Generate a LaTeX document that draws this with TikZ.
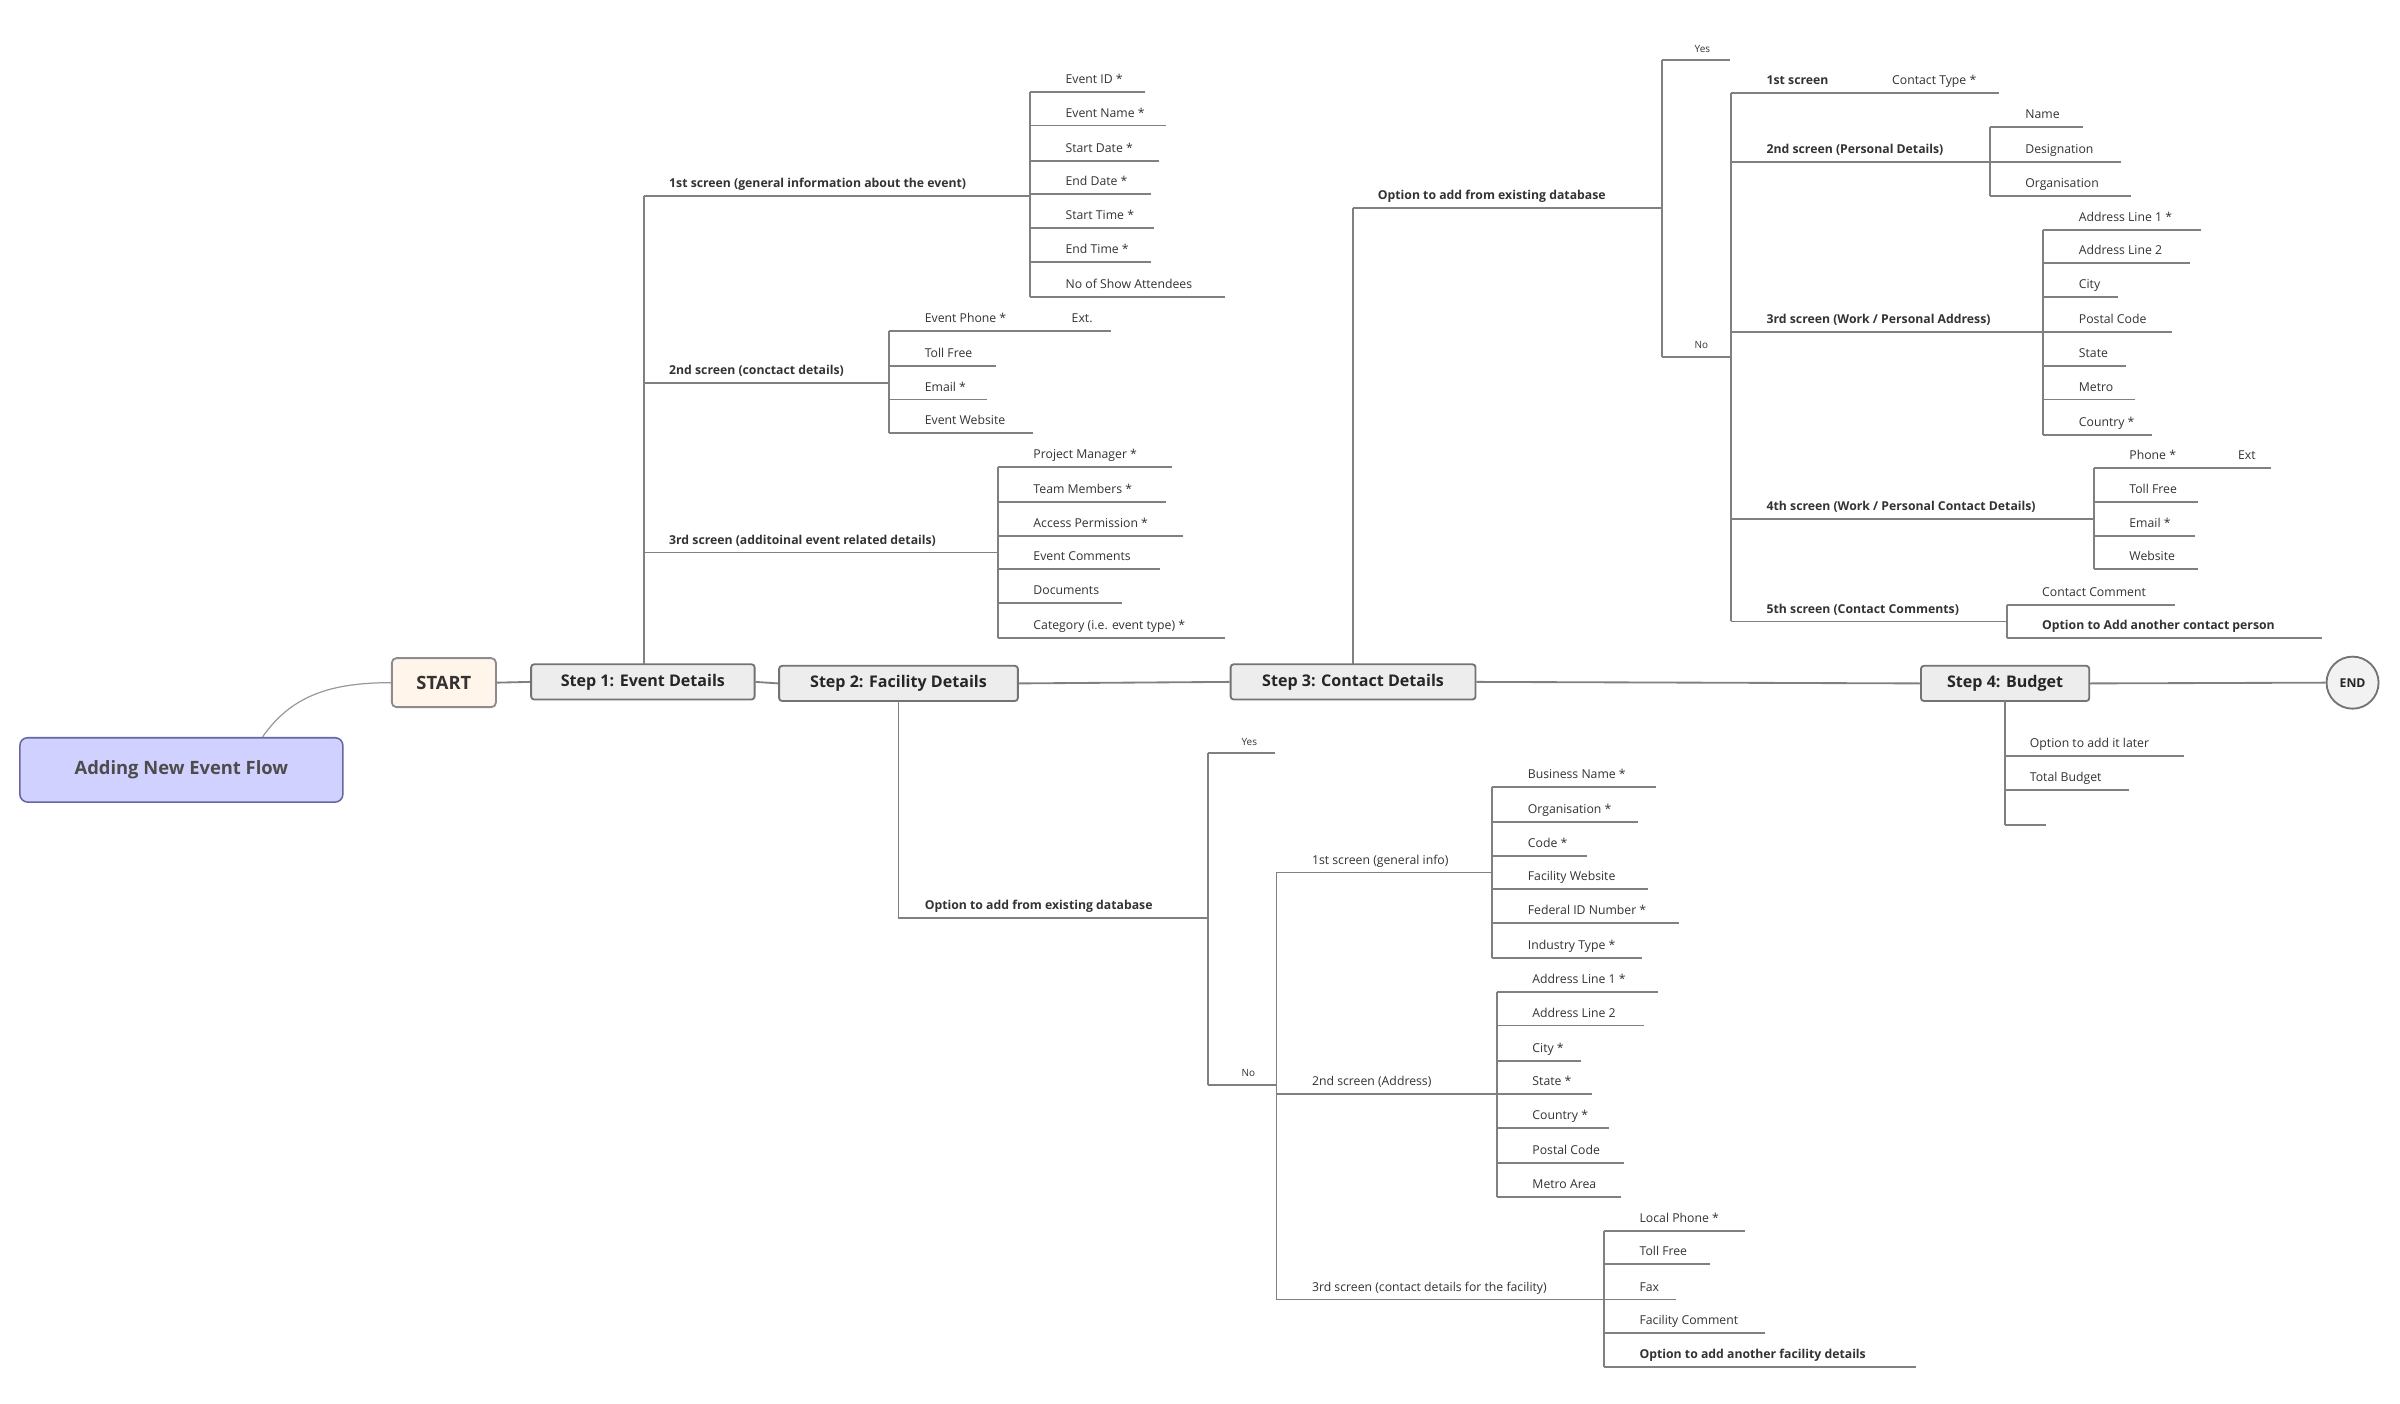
\documentclass[tikz,border=0pt]{standalone}
\usepackage{fontspec}
\setmainfont{Open Sans}
\begin{document}
\begin{tikzpicture}[x=1pt,y=-1pt,
 ln/.style={draw=black!50,line width=1.2pt},
 lbl/.style={inner sep=0,text=black!80,font=\fontsize{8}{9}\selectfont,anchor=base west},
 blb/.style={lbl,font=\fontsize{8}{9}\selectfont\bfseries},
 yn/.style={lbl,font=\fontsize{6.5}{7}\selectfont},
 stepbox/.style={draw=black!55,line width=1.2pt,fill=black!7,rounded corners=2pt,text=black!85,font=\fontsize{10.5}{12}\selectfont\bfseries,minimum height=23pt,inner sep=0}]
\useasboundingbox (0,0) rectangle (1568,917);
\fill[white] (0,0) rectangle (1568,917);
\newcommand\lf[5]{\draw[ln] (#1,#2)--(#3,#2); \node[lbl] at (#4,#2-5.5) {#5};}
\newcommand\bl[5]{\draw[ln] (#1,#2)--(#3,#2); \node[blb] at (#4,#2-5.5) {#5};}
\newcommand\vl[3]{\draw[ln] (#1,#2)--(#1,#3);}
% main nodes
\node[draw=black!45,line width=1.2pt,fill=orange!8,rounded corners=3pt,minimum width=68pt,minimum height=32pt,text=black!80,font=\fontsize{12}{14}\selectfont\bfseries] (start) at (290,446) {START};
\node[draw=blue!40!black!60,line width=1pt,fill=blue!18,rounded corners=5pt,minimum width=211pt,minimum height=42pt,text=black!70,font=\fontsize{12}{14}\selectfont\bfseries] (title) at (118.5,503) {Adding New Event Flow};
\node[stepbox,minimum width=146pt] (s1) at (420,445.5) {Step 1: Event Details};
\node[stepbox,minimum width=156pt] (s2) at (587,446.5) {Step 2: Facility Details};
\node[stepbox,minimum width=160pt] (s3) at (884,445.5) {Step 3: Contact Details};
\node[stepbox,minimum width=110pt] (s4) at (1310,446.5) {Step 4: Budget};
\node[circle,draw=black!55,line width=1.2pt,fill=black!5,minimum size=34pt,inner sep=0,text=black!85,font=\fontsize{8}{9}\selectfont\bfseries] (end) at (1537,446) {END};
\draw[black!40,line width=0.8pt] ([xshift=53pt]title.north) .. controls (190,455) and (215,446) .. (start.west);
\draw[ln] (start.east)--(s1.west) (s1.east)--(s2.west) (s2.east)--(s3.west) (s3.east)--(s4.west) (s4.east)--(end.west);
% Step 1
\vl{421}{128}{434}
\bl{421}{128}{673}{437}{1st screen (general information about the event)}
\vl{673}{60}{194}
\lf{673}{60}{748}{696}{Event ID *}
\lf{673}{82}{762}{696}{Event Name *}
\lf{673}{105}{757}{696}{Start Date *}
\lf{673}{127}{752}{696}{End Date *}
\lf{673}{149}{754}{696}{Start Time *}
\lf{673}{171}{752}{696}{End Time *}
\lf{673}{194}{800}{696}{No of Show Attendees}
\bl{421}{250}{581}{437}{2nd screen (conctact details)}
\vl{581}{216}{283}
\lf{581}{216}{726}{604}{Event Phone *}
\node[lbl] at (700,210.5) {Ext.};
\lf{581}{239}{651}{604}{Toll Free}
\lf{581}{261}{645}{604}{Email *}
\lf{581}{283}{675}{604}{Event Website}
\bl{421}{361}{652}{437}{3rd screen (additoinal event related details)}
\vl{652}{305}{417}
\lf{652}{305}{766}{675}{Project Manager *}
\lf{652}{328}{762}{675}{Team Members *}
\lf{652}{350}{773}{675}{Access Permission *}
\lf{652}{372}{758}{675}{Event Comments}
\lf{652}{394}{733}{675}{Documents}
\lf{652}{417}{800}{675}{Category (i.e. event type) *}
% Step 2
\vl{587}{458}{600}
\bl{587}{600}{789}{604}{Option to add from existing database}
\vl{789}{492}{709}
\draw[ln] (789,492)--(833,492); \node[yn] at (811,487) {Yes};
\draw[ln] (789,709)--(834,709); \node[yn] at (811,703) {No};
\vl{834}{570}{849}
\lf{834}{570}{975}{857}{1st screen (general info)}
\vl{975}{514}{626}
\lf{975}{514}{1082}{998}{Business Name *}
\lf{975}{537}{1070}{998}{Organisation *}
\lf{975}{559}{1037}{998}{Code *}
\lf{975}{581}{1077}{998}{Facility Website}
\lf{975}{603}{1097}{998}{Federal ID Number *}
\lf{975}{626}{1073}{998}{Industry Type *}
\lf{834}{715}{978}{857}{2nd screen (Address)}
\vl{978}{648}{782}
\lf{978}{648}{1083}{1001}{Address Line 1 *}
\lf{978}{670}{1074}{1001}{Address Line 2}
\lf{978}{693}{1033}{1001}{City *}
\lf{978}{715}{1040}{1001}{State *}
\lf{978}{737}{1051}{1001}{Country *}
\lf{978}{760}{1061}{1001}{Postal Code}
\lf{978}{782}{1059}{1001}{Metro Area}
\lf{834}{849}{1048}{857}{3rd screen (contact details for the facility)}
\vl{1048}{804}{893}
\lf{1048}{804}{1140}{1071}{Local Phone *}
\lf{1048}{826}{1117}{1071}{Toll Free}
\lf{1048}{849}{1095}{1071}{Fax}
\lf{1048}{871}{1153}{1071}{Facility Comment}
\bl{1048}{893}{1252}{1071}{Option to add another facility details}
% Step 3
\vl{884}{136}{434}
\bl{884}{136}{1086}{900}{Option to add from existing database}
\vl{1086}{39}{233}
\draw[ln] (1086,39)--(1130,39); \node[yn] at (1107,34) {Yes};
\draw[ln] (1086,233)--(1131,233); \node[yn] at (1107,227.5) {No};
\vl{1131}{61}{406}
\bl{1131}{61}{1306}{1154}{1st screen}
\node[lbl] at (1236,55.5) {Contact Type *};
\bl{1131}{106}{1300}{1154}{2nd screen (Personal Details)}
\vl{1300}{83}{128}
\lf{1300}{83}{1361}{1323}{Name}
\lf{1300}{106}{1386}{1323}{Designation}
\lf{1300}{128}{1392}{1323}{Organisation}
\bl{1131}{217}{1335}{1154}{3rd screen (Work / Personal Address)}
\vl{1335}{150}{284}
\lf{1335}{150}{1438}{1358}{Address Line 1 *}
\lf{1335}{172}{1431}{1358}{Address Line 2}
\lf{1335}{194}{1384}{1358}{City}
\lf{1335}{217}{1419}{1358}{Postal Code}
\lf{1335}{239}{1389}{1358}{State}
\lf{1335}{261}{1395}{1358}{Metro}
\lf{1335}{284}{1406}{1358}{Country *}
\bl{1131}{339}{1368}{1154}{4th screen (Work / Personal Contact Details)}
\vl{1368}{306}{372}
\lf{1368}{306}{1484}{1391}{Phone *}
\node[lbl] at (1462,300.5) {Ext};
\lf{1368}{328}{1436}{1391}{Toll Free}
\lf{1368}{350}{1434}{1391}{Email *}
\lf{1368}{372}{1436}{1391}{Website}
\bl{1131}{406}{1311}{1154}{5th screen (Contact Comments)}
\vl{1311}{395}{417}
\lf{1311}{395}{1421}{1334}{Contact Comment}
\bl{1311}{417}{1517}{1334}{Option to Add another contact person}
% Step 4
\vl{1310}{458}{539}
\lf{1310}{494}{1427}{1326}{Option to add it later}
\lf{1310}{516}{1391}{1326}{Total Budget}
\draw[ln] (1310,539)--(1337,539);
\end{tikzpicture}
\end{document}
